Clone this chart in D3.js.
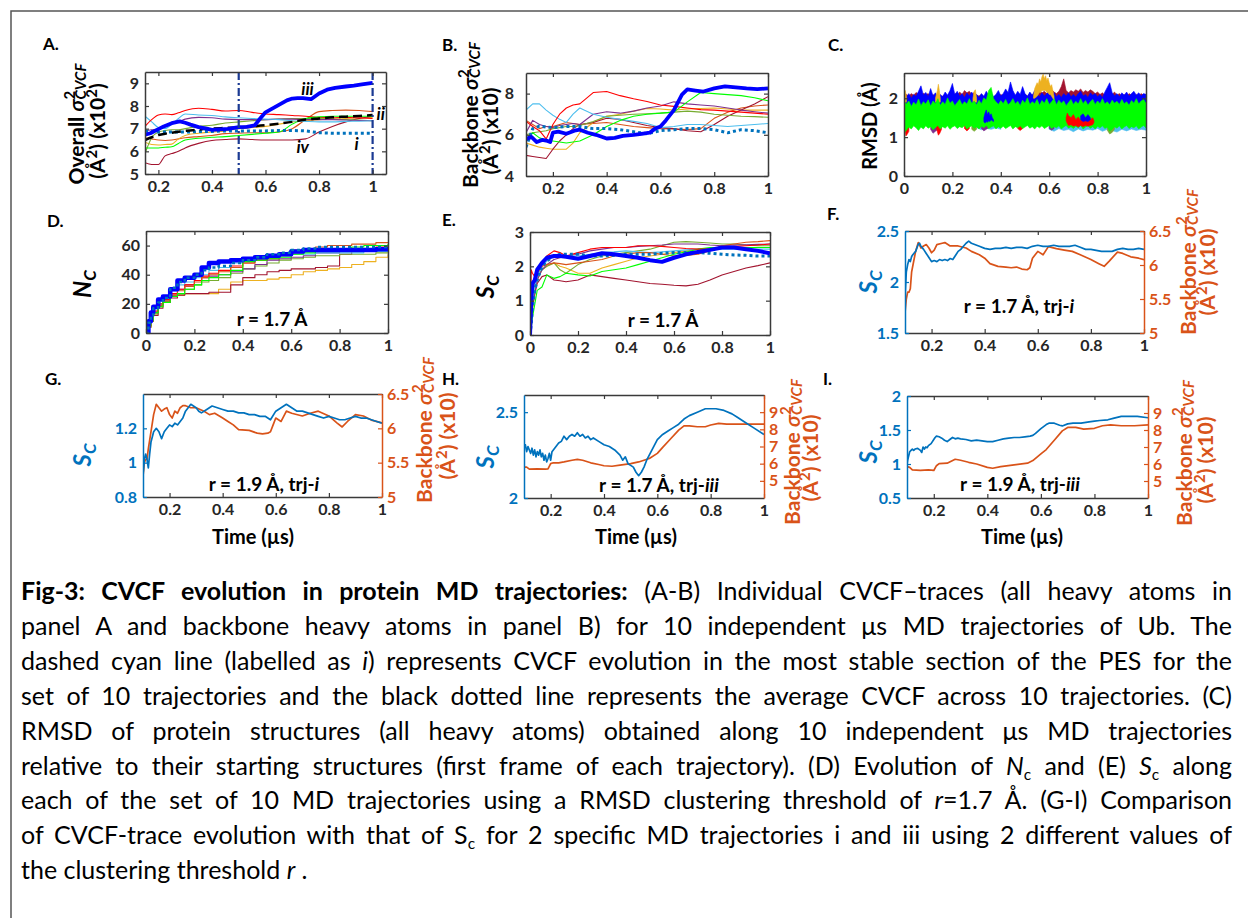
<!DOCTYPE html>
<html><head><meta charset="utf-8">
<script src="https://cdn.jsdelivr.net/npm/d3@7"></script>
<style>
body{margin:0;background:#fff;}
svg{display:block;}
</style></head><body>
<svg id="fig" width="1248" height="918"></svg>
<script>
// ---------------- DATA ----------------
const xTicks = [0.2,0.4,0.6,0.8,1];
const xTicks0 = [0,0.2,0.4,0.6,0.8,1];

// Panel A (overall CVCF, x10^2)
const aT = [0.15,0.175,0.2,0.225,0.25,0.275,0.3,0.35,0.4,0.45,0.5,0.55,0.6,0.65,0.7,0.75,0.8,0.85,0.9,0.95,1.0];
const aRed = [7.1,7.4,7.6,7.65,7.62,7.7,7.8,7.9,7.85,7.78,7.8,7.72,7.65,7.62,7.58,7.55,7.5,7.48,7.5,7.47,7.45];
const aLightBlue = [7.55,7.3,7.05,7.0,7.2,7.45,7.65,7.6,7.58,7.52,7.48,7.45,7.42,7.4,7.35,7.32,7.3,7.3,7.32,7.33,7.35];
const aPurple = [6.9,6.95,7.0,7.1,7.25,7.3,7.42,7.5,7.48,7.42,7.4,7.4,7.4,7.42,7.42,7.4,7.4,7.4,7.38,7.36,7.35];
const aOlive = [5.9,6.6,6.85,6.92,6.95,6.95,7.0,7.1,7.15,7.25,7.3,7.35,7.4,7.42,7.45,7.45,7.45,7.42,7.4,7.38,7.35];
const aYellow = [6.4,6.3,6.28,6.3,6.32,6.55,6.7,6.8,6.85,6.9,7.0,7.05,7.1,7.2,7.3,7.35,7.4,7.42,7.45,7.48,7.5];
const aOrange = [6.6,6.55,6.5,6.48,6.5,6.55,6.6,6.65,6.7,6.78,6.8,6.82,6.82,6.85,7.0,7.4,7.75,7.8,7.82,7.8,7.75];
const aMaroon = [5.5,5.42,5.42,5.8,5.9,6.0,6.15,6.35,6.48,6.52,6.55,6.52,6.5,6.5,6.5,6.55,6.85,7.1,7.3,7.45,7.55];
const aGreen = [6.15,6.15,6.15,6.18,6.2,6.35,6.5,6.58,6.62,6.65,6.7,6.75,6.8,6.85,7.2,7.45,7.52,7.55,7.55,7.55,7.55];
const aDotted = [6.9,6.88,6.85,6.85,6.85,6.85,6.85,6.87,6.88,6.9,6.9,6.9,6.9,6.92,6.92,6.9,6.82,6.8,6.8,6.8,6.8];
const aMean = [6.5,6.62,6.72,6.78,6.82,6.86,6.9,6.96,7.0,7.03,7.06,7.1,7.15,7.22,7.3,7.4,7.45,7.5,7.53,7.56,7.6];
const aBlueT = [0.15,0.17,0.2,0.22,0.25,0.28,0.3,0.32,0.35,0.38,0.4,0.43,0.46,0.5,0.53,0.56,0.58,0.6,0.62,0.65,0.68,0.7,0.72,0.74,0.77,0.8,0.83,0.86,0.9,0.93,0.96,1.0];
const aBlue = [6.73,6.8,6.98,7.1,7.24,7.32,7.26,7.18,7.07,7.0,6.95,6.97,6.99,7.07,7.08,7.15,7.45,7.72,7.85,8.05,8.25,8.33,8.35,8.35,8.3,8.55,8.72,8.8,8.86,8.9,8.95,9.02];
const aVLines = [0.5, 1.0];

// Panel B (backbone CVCF, x10)
const bT = [0.1,0.125,0.15,0.175,0.2,0.225,0.25,0.275,0.3,0.35,0.4,0.45,0.5,0.55,0.6,0.65,0.7,0.75,0.8,0.85,0.9,0.95,1.0];
const bRed = [6.65,6.4,6.2,5.8,6.5,7.0,7.3,7.45,7.5,8.05,8.1,7.9,7.75,7.62,7.45,7.38,7.3,7.22,7.2,7.15,7.1,7.05,7.0];
const bLightBlue = [7.2,7.5,7.5,7.2,6.95,6.75,6.6,7.0,7.3,7.0,6.85,6.75,6.65,6.55,6.35,6.4,6.5,6.5,6.45,6.4,6.45,6.5,6.55];
const bPurple = [6.1,6.7,6.5,6.4,6.35,6.45,6.5,6.55,6.5,7.0,7.12,7.05,7.15,7.3,7.4,7.6,7.5,7.45,7.4,7.3,7.2,7.12,7.05];
const bOlive = [6.0,6.1,6.15,6.2,6.3,6.35,6.4,6.4,6.45,6.65,6.9,6.95,7.0,7.02,7.05,7.1,7.15,7.1,7.0,6.95,6.9,6.88,6.85];
const bYellow = [5.6,5.5,5.4,5.35,5.3,5.3,5.3,5.6,6.1,6.6,6.9,7.0,7.15,7.28,7.25,7.2,7.25,7.28,7.3,7.25,7.2,7.2,7.2];
const bOrange = [6.7,6.5,6.3,6.4,6.4,6.5,6.6,6.55,6.5,6.55,6.6,6.5,6.4,6.35,6.3,6.28,6.25,6.3,6.8,7.1,7.3,7.4,7.45];
const bMaroon = [5.0,4.95,4.9,4.85,5.3,5.7,6.0,6.3,6.5,6.6,6.8,6.75,6.6,6.45,6.35,6.3,6.2,6.15,6.5,6.9,7.2,7.5,7.85];
const bGreen = [5.8,6.1,5.85,5.75,5.7,5.65,5.6,5.65,5.7,6.0,6.4,6.7,6.9,7.0,7.05,7.1,7.6,8.05,8.0,7.95,7.9,7.8,7.65];
const bDotted = [5.4,6.3,6.42,6.38,6.35,6.38,6.4,6.4,6.4,6.3,6.3,6.25,6.15,6.05,6.2,6.25,6.3,6.3,6.25,6.1,6.25,6.2,6.1];
const bBlueT = [0.1,0.12,0.14,0.16,0.18,0.19,0.2,0.22,0.25,0.28,0.3,0.33,0.36,0.4,0.43,0.46,0.5,0.53,0.56,0.58,0.6,0.62,0.65,0.68,0.7,0.73,0.76,0.8,0.84,0.88,0.92,0.96,1.0];
const bBlue = [5.8,5.9,5.65,5.75,5.7,5.65,6.1,6.15,6.05,6.2,6.25,6.1,6.0,5.82,5.85,5.95,6.0,6.05,6.1,6.3,6.4,6.7,7.2,7.95,8.2,8.15,8.1,8.25,8.35,8.3,8.25,8.22,8.25];

// Panel C (RMSD, A) – envelopes of the dense traces
const rmsdT = [0,0.003,0.01,0.02,0.03,0.04,0.05,0.06,0.07,0.08,0.09,0.10,0.11,0.12,0.13,0.14,0.15,0.16,0.17,0.18,0.19,0.20,0.21,0.22,0.23,0.24,0.25,0.26,0.27,0.28,0.29,0.30,0.31,0.32,0.33,0.34,0.35,0.36,0.37,0.38,0.39,0.40,0.41,0.42,0.43,0.44,0.45,0.46,0.47,0.48,0.49,0.50,0.51,0.52,0.53,0.54,0.55,0.56,0.57,0.58,0.59,0.60,0.61,0.62,0.63,0.64,0.65,0.66,0.67,0.68,0.69,0.70,0.71,0.72,0.73,0.74,0.75,0.76,0.77,0.78,0.79,0.80,0.81,0.82,0.83,0.84,0.85,0.86,0.87,0.88,0.89,0.90,0.91,0.92,0.93,0.94,0.95,0.96,0.97,0.98,0.99,1.00];
const rmsdGreenHi = [1.75,1.9,1.85,1.93,1.79,1.9,1.83,1.98,1.81,1.91,1.85,1.96,1.8,1.93,1.86,1.99,1.82,1.91,1.84,2.01,1.87,1.93,1.81,1.89,1.97,1.83,1.91,1.85,1.99,1.87,1.93,1.83,1.95,1.86,2.01,1.95,2.2,2.28,1.99,1.91,1.84,1.94,1.86,1.97,1.83,1.89,1.99,1.85,1.92,1.81,1.95,1.87,2.01,1.84,1.91,1.86,1.97,1.82,1.94,1.87,1.99,1.84,1.91,1.99,1.83,1.95,1.87,1.93,1.81,1.89,1.97,1.84,1.92,1.85,1.99,1.86,1.94,1.82,1.91,1.97,1.84,1.93,1.86,1.99,1.85,1.91,1.83,1.95,1.87,1.92,1.84,1.97,1.86,1.91,1.82,1.94,1.87,1.99,1.85,1.93,1.97,1.87];
const rmsdGreenLo = [0,1.12,1.18,1.26,1.21,1.29,1.24,1.17,1.26,1.21,1.29,1.23,1.27,1.19,1.25,1.3,1.21,1.27,1.23,1.29,1.2,1.26,1.29,1.22,1.27,1.24,1.3,1.21,1.26,1.29,1.23,1.27,1.21,1.28,1.24,1.3,1.22,1.26,1.29,1.21,1.27,1.23,1.28,1.22,1.26,1.3,1.21,1.27,1.24,1.29,1.22,1.26,1.3,1.23,1.27,1.21,1.28,1.24,1.29,1.22,1.26,1.3,1.22,1.27,1.24,1.29,1.21,1.26,1.3,1.23,1.27,1.22,1.28,1.24,1.3,1.21,1.26,1.29,1.23,1.27,1.21,1.28,1.24,1.29,1.22,1.26,1.16,1.2,1.27,1.23,1.29,1.21,1.26,1.3,1.22,1.27,1.24,1.29,1.21,1.26,1.3,1.24];
const rmsdBlueHi = [1.9,2.0,2.02,2.12,2.0,2.1,2.05,2.18,2.32,2.08,2.15,2.04,2.25,2.06,2.14,2.02,2.1,2.04,2.16,2.08,2.2,2.38,2.1,2.18,2.05,2.12,2.02,2.14,2.06,2.16,2.04,2.1,2.02,2.12,2.05,2.18,2.08,2.14,2.04,2.1,2.2,2.06,2.12,2.24,2.15,2.42,2.2,2.08,2.18,2.1,2.3,2.12,2.05,2.16,2.08,2.2,2.1,2.04,2.14,2.06,2.12,2.2,2.08,2.15,2.04,2.1,2.02,2.12,2.06,2.14,2.04,2.1,2.03,2.12,2.18,2.06,2.1,2.02,2.14,2.08,2.12,2.04,2.1,2.02,2.16,2.28,2.4,2.15,2.06,2.12,2.04,2.14,2.08,2.16,2.05,2.12,2.18,2.08,2.14,2.06,2.12,2.1];
const rmsdMaroonHi = [1.9,2.05,2.1,2.06,2.12,2.08,2.15,2.1,2.06,2.13,2.09,2.12,2.05,2.1,2.04,2.08,2.02,2.06,2.1,2.04,2.08,2.05,2.12,2.08,2.16,2.1,2.2,2.14,2.18,2.1,2.15,2.08,2.06,2.1,2.04,2.08,2.12,2.06,2.02,2.08,2.04,2.1,2.06,2.02,2.08,2.04,2.1,2.06,2.02,2.08,2.05,2.1,2.06,2.12,2.08,2.15,2.1,2.2,2.14,2.18,2.12,2.2,2.22,2.16,2.12,2.18,2.3,2.5,2.2,2.14,2.2,2.16,2.22,2.18,2.24,2.15,2.2,2.16,2.22,2.18,2.12,2.16,2.1,2.14,2.08,2.12,2.06,2.1,2.16,2.08,2.12,2.06,2.1,2.05,2.12,2.08,2.04,2.1,2.06,2.12,2.08,2.1];
const rmsdOrangeT = [0,0.005,0.01,0.012,0.13,0.138,0.142,0.146,0.15,0.152,0.285,0.29,0.295,0.3,0.302,0.535,0.54,0.55,0.555,0.56,0.565,0.57,0.575,0.58,0.585,0.59,0.595,0.6,0.605,0.61,0.615,0.62];
const rmsdOrangeHi = [2.1,2.2,2.05,null,2.0,2.2,2.36,2.2,2.0,null,2.0,2.18,2.22,2.0,null,2.05,2.25,2.4,2.35,2.5,2.42,2.55,2.62,2.5,2.58,2.45,2.52,2.4,2.3,2.35,2.2,2.05];
const rmsdOrangeLo = [1.9,1.9,1.9,null,1.9,1.9,1.9,1.9,1.9,null,1.9,1.9,1.9,1.9,null,2.0,2.0,2.05,2.1,2.15,2.15,2.2,2.2,2.2,2.2,2.15,2.15,2.1,2.1,2.05,2.0,1.95];
const rmsdCyanLowT = [0,0.01,0.02,0.021,0.3,0.32,0.34,0.36,0.38,0.4,0.401,0.6,0.62,0.64,0.66,0.68,0.7,0.72,0.74,0.76,0.78,0.8,0.82,0.84,0.86,0.88,0.9,0.92,0.94,0.96,0.98,1.0];
const rmsdCyanLow = [1.2,1.25,1.2,null,1.24,1.19,1.23,1.2,1.24,1.2,null,1.2,1.15,1.22,1.17,1.2,1.14,1.21,1.16,1.2,1.18,1.22,1.15,1.2,1.17,1.13,1.2,1.16,1.21,1.17,1.2,1.18];
const rmsdRedLowT = [0.004,0.008,0.014,0.02,0.021,0.135,0.142,0.148,0.155,0.156,0.25,0.26,0.27,0.271,0.47,0.48,0.49];
const rmsdRedLow = [1.15,1.03,1.08,1.15,null,1.2,1.05,1.1,1.2,null,1.22,1.16,1.22,null,1.22,1.17,1.22];
const rmsdPurpleLowT = [0.11,0.12,0.13,0.14,0.141,0.32,0.33,0.34,0.35,0.351,0.6,0.61,0.62];
const rmsdPurpleLow = [1.2,1.1,1.15,1.2,null,1.22,1.16,1.2,1.24,null,1.22,1.18,1.22];
const rmsdOliveLowT = [0.28,0.29,0.3,0.301,0.84,0.85,0.86,0.87];
const rmsdOliveLow = [1.2,1.15,1.2,null,1.18,1.08,1.12,1.2];
const rmsdRedPatchT = [0.67,0.675,0.68,0.69,0.7,0.71,0.72,0.73,0.74,0.75,0.76,0.77,0.78,0.785];
const rmsdRedPatchHi = [1.5,1.62,1.55,1.5,1.58,1.45,1.52,1.42,1.5,1.44,1.52,1.45,1.5,1.42];
const rmsdRedPatchLo = [1.42,1.35,1.3,1.32,1.28,1.3,1.26,1.3,1.27,1.3,1.28,1.3,1.32,1.38];
const rmsdBluePatchT = [0.33,0.335,0.34,0.345,0.35,0.355,0.36,0.365,0.37,0.371,0.73,0.74,0.75,0.76,0.77];
const rmsdBluePatchHi = [1.5,1.62,1.7,1.58,1.65,1.55,1.6,1.5,1.45,null,1.55,1.6,1.5,1.58,1.5];
const rmsdBluePatchLo = [1.4,1.36,1.4,1.38,1.42,1.4,1.45,1.42,1.4,null,1.45,1.4,1.42,1.4,1.45];

// Panel D (N_C)
const dT = [0,0.01,0.02,0.03,0.05,0.07,0.1,0.13,0.16,0.2,0.23,0.26,0.3,0.35,0.4,0.45,0.5,0.55,0.6,0.65,0.7,0.75,0.8,0.85,0.9,0.95,1.0];
const dBlue = [0,8,14,18,23,25,30,36,38,40,45,48,49,50,51,52,53,54,56,57,57,57,57,57,57,57.5,57.5];
const dDotted = [0,7,12,17,21,24,31,35,38,40,43,45,46,48,50,52,54,55,57,58,59,59,59,59,59,59,59];
const dRed = [0,5,10,15,20,23,27,30,33,36,39,41,43,46,48,50,51,53,55,56,56,57,57,58,58,59,59];
const dOrange = [0,5,9,14,19,22,26,29,32,35,38,40,42,45,48,51,53,55,57,58,59,60,60,61,61,62,62];
const dLightBlue = [0,6,11,16,20,23,29,33,35,38,40,43,45,48,50,51,52,53,54,54,55,55,55,55,56,56,56];
const dPurple = [0,5,9,14,19,22,26,30,33,36,38,39,40,42,44,47,50,51,52,53,55,55,56,57,57,58,58];
const dOlive = [0,4,8,13,18,22,25,27,30,33,35,36,38,41,44,46,48,50,51,52,53,53,54,54,54,55,55];
const dGreen = [0,5,9,14,18,21,25,27,30,33,36,38,40,43,49,50,51,52,54,55,57,57,58,59,60,60,61];
const dMaroon = [0,4,8,12,17,21,24,26,27,27,27,28,28,33,38,40,42,43,44,44,45,46,54,56,56,57,58];
const dYellow = [0,4,8,13,18,21,25,26,27,27,27,27,30,35,36,36,37,38,40,42,43,44,45,47,49,52,54];

// Panel E (S_C)
const eT = [0,0.005,0.01,0.02,0.03,0.05,0.07,0.1,0.125,0.15,0.2,0.25,0.3,0.35,0.4,0.45,0.5,0.55,0.6,0.65,0.7,0.75,0.8,0.85,0.9,0.95,1.0];
const eBlue = [0,1.0,1.5,1.6,1.9,2.1,2.25,2.3,2.3,2.28,2.22,2.3,2.38,2.35,2.3,2.25,2.18,2.13,2.25,2.35,2.42,2.48,2.55,2.55,2.5,2.45,2.38];
const eDotted = [0,0.3,0.8,1.3,1.6,2.0,2.15,2.3,2.35,2.35,2.35,2.3,2.3,2.32,2.35,2.35,2.35,2.38,2.4,2.4,2.4,2.38,2.35,2.33,2.32,2.3,2.3];
const eMaroon = [0,0.4,0.8,1.2,1.5,1.7,1.75,1.6,1.58,1.55,1.6,1.75,1.7,1.65,1.6,1.55,1.5,1.48,1.45,1.43,1.48,1.6,1.75,1.85,1.95,2.02,2.1];
const eGreen = [0,0.2,0.5,0.9,1.3,1.4,1.75,1.65,1.7,1.8,1.75,1.72,1.85,1.9,1.95,2.05,2.15,2.25,2.35,2.42,2.5,2.55,2.55,2.55,2.55,2.55,2.55];
const eRed = [0,1.9,1.8,1.7,1.9,2.1,2.3,2.45,2.4,2.3,2.4,2.5,2.55,2.55,2.55,2.6,2.6,2.58,2.55,2.52,2.5,2.5,2.55,2.58,2.6,2.62,2.65];
const eOlive = [0,0.3,0.8,1.4,1.7,1.9,2.0,2.1,1.9,1.8,2.05,2.2,2.3,2.35,2.4,2.45,2.5,2.6,2.7,2.72,2.7,2.68,2.65,2.65,2.62,2.6,2.6];
const eYellow = [0,0.3,0.7,1.2,1.6,1.9,2.0,2.1,2.0,1.95,1.8,1.8,1.95,2.05,2.15,2.25,2.3,2.35,2.4,2.45,2.5,2.52,2.55,2.55,2.55,2.55,2.55];
const eOrange = [0,0.8,1.2,1.6,1.8,2.0,2.05,2.1,2.08,2.05,2.1,2.15,2.2,2.3,2.35,2.4,2.4,2.35,2.3,2.32,2.35,2.45,2.6,2.65,2.7,2.72,2.75];
const ePurple = [0,0.5,0.9,1.3,1.6,1.9,2.05,2.2,2.25,2.3,2.35,2.45,2.5,2.55,2.55,2.58,2.6,2.62,2.65,2.65,2.65,2.62,2.6,2.62,2.63,2.64,2.65];
const eLightBlue = [0,0.6,1.0,1.4,1.7,2.0,2.15,2.3,2.3,2.3,2.3,2.35,2.4,2.42,2.45,2.42,2.4,2.42,2.45,2.48,2.5,2.5,2.5,2.5,2.5,2.5,2.5];

// Panel F (r=1.7, trj-i)
const fScT = [0.1,0.101,0.105,0.11,0.115,0.12,0.125,0.13,0.14,0.15,0.155,0.16,0.17,0.18,0.19,0.2,0.21,0.22,0.23,0.24,0.25,0.26,0.27,0.28,0.29,0.3,0.31,0.32,0.33,0.34,0.35,0.36,0.38,0.4,0.42,0.44,0.46,0.48,0.5,0.52,0.54,0.56,0.58,0.6,0.62,0.64,0.66,0.68,0.7,0.72,0.74,0.76,0.78,0.8,0.82,0.84,0.86,0.88,0.9,0.92,0.94,0.96,0.98,1.0];
const fSc = [1.72,1.9,2.1,2.17,2.22,2.2,2.25,2.27,2.3,2.37,2.38,2.35,2.32,2.28,2.24,2.2,2.21,2.2,2.22,2.21,2.22,2.21,2.23,2.22,2.26,2.3,2.32,2.35,2.38,2.4,2.38,2.37,2.35,2.33,2.32,2.33,2.33,2.34,2.33,2.34,2.34,2.33,2.35,2.36,2.35,2.35,2.36,2.35,2.35,2.35,2.36,2.34,2.32,2.32,2.31,2.3,2.3,2.3,2.32,2.33,2.32,2.32,2.33,2.32];
const fCvT = [0.1,0.105,0.11,0.115,0.12,0.125,0.13,0.14,0.15,0.16,0.17,0.18,0.19,0.2,0.21,0.22,0.24,0.25,0.27,0.3,0.33,0.35,0.38,0.4,0.42,0.45,0.48,0.5,0.52,0.54,0.56,0.57,0.58,0.6,0.62,0.64,0.67,0.7,0.73,0.76,0.8,0.83,0.85,0.87,0.9,0.92,0.95,0.98,1.0];
const fCv = [5.3,5.5,5.6,5.6,5.65,5.9,6.0,6.2,6.33,6.25,6.28,6.3,6.25,6.18,6.22,6.3,6.32,6.33,6.28,6.28,6.25,6.2,6.15,6.1,6.02,5.98,5.97,5.96,5.97,5.94,5.93,5.96,6.1,6.2,6.15,6.27,6.24,6.22,6.2,6.15,6.08,6.02,5.98,6.06,6.19,6.17,6.12,6.1,6.08];

// Panel G (r=1.9, trj-i)
const gScT = [0.1,0.105,0.11,0.115,0.12,0.125,0.13,0.135,0.14,0.15,0.16,0.165,0.17,0.18,0.19,0.2,0.21,0.22,0.23,0.24,0.25,0.26,0.27,0.28,0.29,0.3,0.31,0.32,0.34,0.36,0.38,0.4,0.42,0.44,0.46,0.48,0.5,0.52,0.54,0.56,0.58,0.6,0.62,0.64,0.66,0.68,0.7,0.72,0.74,0.76,0.78,0.8,0.82,0.84,0.86,0.88,0.9,0.92,0.94,0.96,0.98,1.0];
const gSc = [0.93,1.02,1.05,1.02,0.97,1.05,1.12,1.15,1.18,1.2,1.18,1.16,1.14,1.18,1.2,1.22,1.21,1.23,1.22,1.24,1.26,1.3,1.32,1.34,1.33,1.32,1.3,1.29,1.31,1.33,1.32,1.31,1.3,1.3,1.29,1.29,1.28,1.28,1.27,1.27,1.25,1.3,1.32,1.34,1.32,1.3,1.3,1.29,1.28,1.27,1.26,1.27,1.26,1.25,1.25,1.26,1.27,1.26,1.26,1.25,1.24,1.23];
const gCvT = [0.1,0.105,0.11,0.115,0.12,0.13,0.14,0.15,0.16,0.17,0.18,0.19,0.2,0.21,0.22,0.23,0.24,0.25,0.26,0.28,0.3,0.33,0.35,0.37,0.4,0.42,0.44,0.46,0.5,0.53,0.55,0.57,0.58,0.59,0.6,0.62,0.64,0.66,0.7,0.73,0.76,0.8,0.83,0.85,0.87,0.9,0.93,0.96,1.0];
const gCv = [5.3,5.5,5.55,5.55,5.7,5.95,6.2,6.35,6.3,6.25,6.28,6.3,6.2,6.15,6.25,6.22,6.3,6.33,6.33,6.3,6.3,6.25,6.2,6.22,6.15,6.1,6.05,5.98,5.97,5.93,5.92,5.93,5.95,6.05,6.15,6.1,6.25,6.22,6.18,6.22,6.25,6.18,6.08,6.02,6.1,6.2,6.18,6.12,6.08];

// Panel H (r=1.7, trj-iii)
const hScT = [0.1,0.105,0.11,0.115,0.12,0.125,0.13,0.135,0.14,0.145,0.15,0.155,0.16,0.165,0.17,0.175,0.18,0.185,0.19,0.195,0.2,0.205,0.21,0.22,0.23,0.24,0.25,0.26,0.27,0.28,0.29,0.3,0.31,0.32,0.33,0.34,0.35,0.36,0.38,0.4,0.42,0.44,0.46,0.47,0.48,0.49,0.5,0.51,0.52,0.53,0.54,0.55,0.56,0.58,0.6,0.62,0.64,0.66,0.68,0.7,0.72,0.75,0.78,0.8,0.82,0.85,0.88,0.9,0.93,0.96,1.0];
const hSc = [2.3,2.31,2.27,2.3,2.28,2.26,2.29,2.25,2.28,2.24,2.27,2.25,2.28,2.24,2.26,2.22,2.25,2.21,2.23,2.26,2.22,2.27,2.28,2.3,2.32,2.33,2.36,2.34,2.36,2.37,2.36,2.38,2.36,2.37,2.35,2.36,2.34,2.35,2.33,2.31,2.3,2.28,2.25,2.22,2.24,2.2,2.19,2.18,2.15,2.13,2.15,2.18,2.22,2.28,2.34,2.37,2.39,2.41,2.43,2.46,2.48,2.5,2.52,2.52,2.52,2.51,2.49,2.47,2.44,2.41,2.37];
const hCvT = [0.1,0.11,0.12,0.15,0.18,0.19,0.2,0.21,0.23,0.25,0.28,0.3,0.32,0.35,0.38,0.4,0.43,0.46,0.5,0.53,0.55,0.57,0.6,0.62,0.65,0.68,0.7,0.72,0.75,0.78,0.8,0.83,0.86,0.9,0.95,1.0];
const hCv = [5.8,5.8,5.68,5.7,5.68,5.7,6.0,6.05,6.05,6.1,6.2,6.25,6.2,6.05,5.95,5.88,5.85,5.92,6.0,6.1,6.2,6.3,6.6,6.95,7.45,7.95,8.2,8.2,8.15,8.15,8.25,8.35,8.3,8.3,8.3,8.3];

// Panel I (r=1.9, trj-iii)
const iScT = [0.1,0.102,0.105,0.11,0.115,0.12,0.125,0.13,0.14,0.15,0.155,0.16,0.165,0.17,0.175,0.18,0.19,0.2,0.205,0.21,0.22,0.23,0.24,0.25,0.26,0.27,0.28,0.29,0.3,0.32,0.34,0.36,0.38,0.4,0.42,0.44,0.46,0.48,0.5,0.52,0.54,0.56,0.57,0.58,0.6,0.62,0.63,0.65,0.67,0.68,0.7,0.72,0.75,0.78,0.8,0.82,0.85,0.87,0.9,0.93,0.96,1.0];
const iSc = [1.0,1.05,1.1,1.18,1.2,1.22,1.2,1.22,1.23,1.2,1.17,1.25,1.22,1.25,1.24,1.27,1.3,1.36,1.39,1.41,1.4,1.38,1.35,1.33,1.36,1.39,1.37,1.38,1.37,1.36,1.34,1.35,1.34,1.33,1.33,1.35,1.37,1.38,1.39,1.39,1.4,1.41,1.42,1.45,1.52,1.58,1.6,1.6,1.57,1.56,1.59,1.6,1.6,1.62,1.63,1.64,1.65,1.67,1.7,1.7,1.7,1.68];
const iCvT = [0.1,0.11,0.12,0.15,0.18,0.2,0.21,0.22,0.25,0.28,0.3,0.33,0.36,0.4,0.42,0.45,0.5,0.55,0.57,0.6,0.62,0.65,0.68,0.7,0.73,0.76,0.8,0.83,0.86,0.9,0.95,1.0];
const iCv = [5.85,5.8,5.65,5.62,5.65,5.62,5.9,6.02,6.05,6.28,6.22,6.1,6.0,5.8,5.75,5.85,5.95,6.05,6.2,6.6,6.85,7.4,7.95,8.15,8.15,8.05,8.1,8.25,8.3,8.25,8.25,8.3];

// Caption
const captionLines = [
  [["b","Fig-3: CVCF evolution in protein MD trajectories:"],["n"," (A-B) Individual CVCF–traces (all heavy atoms in"]],
  [["n","panel A and backbone heavy atoms in panel B) for 10 independent μs MD trajectories of Ub. The"]],
  [["n","dashed cyan line (labelled as "],["i","i"],["n",") represents CVCF evolution in the most stable section of the PES for the"]],
  [["n","set of 10 trajectories and the black dotted line represents the average CVCF across 10 trajectories. (C)"]],
  [["n","RMSD of protein structures (all heavy atoms) obtained along 10 independent μs MD trajectories"]],
  [["n","relative to their starting structures (first frame of each trajectory). (D) Evolution of "],["i","N"],["sub","c"],["n"," and (E) "],["i","S"],["sub","c"],["n"," along"]],
  [["n","each of the set of 10 MD trajectories using a RMSD clustering threshold of "],["i","r"],["n","=1.7 Å. (G-I) Comparison"]],
  [["n","of CVCF-trace evolution with that of S"],["sub","c"],["n"," for 2 specific MD trajectories i and iii using 2 different values of"]],
  [["n","the clustering threshold "],["i","r"],["n"," ."]]
];

// ---------------- DRAWING ----------------
const FONT = "Lato, 'Open Sans', 'DejaVu Sans', sans-serif";
const AXC = "#3a3a3a", TXT = "#262626";
const COL = {red:"#FF0000", lblue:"#4DBEEE", purple:"#7E2F8E", olive:"#77AC30", yellow:"#EDB120",
  orange:"#D95319", maroon:"#A2142F", green:"#00FF00", blue:"#0000FF", mblue:"#0072BD", navy:"#1B3A93"};
const svg = d3.select("#fig");
const defs = svg.append("defs");
svg.append("rect").attr("x",11).attr("y",11).attr("width",1400).attr("height",1100)
  .attr("fill","none").attr("stroke","#555").attr("stroke-width",1.5);

function makePanel(o){
  const x = d3.scaleLinear().domain(o.xDom).range([o.L,o.R]);
  const y = d3.scaleLinear().domain(o.yDom).range([o.B,o.T]);
  const yR = o.yRDom ? d3.scaleLinear().domain(o.yRDom).range([o.B,o.T]) : null;
  const g = svg.append("g");
  const cid = "clip-"+o.name;
  defs.append("clipPath").attr("id",cid).append("rect")
    .attr("x",o.L).attr("y",o.T).attr("width",o.R-o.L).attr("height",o.B-o.T);
  const plot = g.append("g").attr("clip-path",`url(#${cid})`);
  return {o,x,y,yR,g,plot};
}
function styleAxis(sel, lineColor, textColor){
  sel.attr("font-family",FONT).attr("font-size",16).attr("font-weight","bold");
  sel.select(".domain").attr("stroke",lineColor).attr("stroke-width",1.5);
  sel.selectAll(".tick line").attr("stroke",lineColor).attr("stroke-width",1.2);
  sel.selectAll(".tick text").attr("fill",textColor);
}
function drawAxes(p){
  const {o,x,y,yR,g} = p;
  const fmt = d3.format("~g");
  const ga = g.append("g");
  styleAxis(ga.append("g").attr("transform",`translate(0,${o.T})`)
    .call(d3.axisTop(x).tickValues(o.xTicks).tickFormat("").tickSizeInner(-4).tickSizeOuter(0)), AXC, TXT);
  styleAxis(ga.append("g").attr("transform",`translate(0,${o.B})`)
    .call(d3.axisBottom(x).tickValues(o.xTicks).tickFormat(fmt).tickSizeInner(-4).tickSizeOuter(0).tickPadding(7)), AXC, TXT);
  if (yR) {
    styleAxis(ga.append("g").attr("transform",`translate(${o.R},0)`)
      .call(d3.axisRight(yR).tickValues(o.yRTicks).tickFormat(fmt).tickSizeInner(-4).tickSizeOuter(0).tickPadding(5)), COL.orange, COL.orange);
  } else {
    styleAxis(ga.append("g").attr("transform",`translate(${o.R},0)`)
      .call(d3.axisRight(y).tickValues(o.yTicks).tickFormat("").tickSizeInner(-4).tickSizeOuter(0)), AXC, TXT);
  }
  const lc = yR ? COL.mblue : AXC, ltc = yR ? COL.mblue : TXT;
  styleAxis(ga.append("g").attr("transform",`translate(${o.L},0)`)
    .call(d3.axisLeft(y).tickValues(o.yTicks).tickFormat(fmt).tickSizeInner(-4).tickSizeOuter(0).tickPadding(o.yPad||6)), lc, ltc);
}
function drawLine(p, xs, ys, st){
  const ys_ = st.right ? p.yR : p.y;
  const gen = d3.line().defined((d,i)=>ys[i]!=null)
    .x((d,i)=>p.x(xs[i])).y((d,i)=>ys_(ys[i])).curve(st.curve||d3.curveLinear);
  p.plot.append("path").attr("d",gen(xs)).attr("fill","none")
    .attr("stroke",st.color).attr("stroke-width",st.width||1.1)
    .attr("stroke-dasharray",st.dash||null).attr("stroke-linejoin","round");
}
function drawBand(p, xs, lo, hi, color){
  const val = (v,i)=> Array.isArray(v) ? v[i] : v;
  const gen = d3.area().defined((d,i)=>val(lo,i)!=null && val(hi,i)!=null)
    .x((d,i)=>p.x(xs[i])).y0((d,i)=>p.y(val(lo,i))).y1((d,i)=>p.y(val(hi,i)));
  p.plot.append("path").attr("d",gen(xs)).attr("fill",color).attr("stroke",color).attr("stroke-width",0.6);
}
function text(x,y,parts,opt={}){
  const t = svg.append("text").attr("x",x).attr("y",y).attr("font-family",FONT)
    .attr("font-size",opt.size||19).attr("font-weight",opt.weight||"bold")
    .attr("fill",opt.color||"#000").attr("text-anchor",opt.anchor||"start").style("white-space","pre");
  if (opt.transform) t.attr("transform",opt.transform);
  parts.forEach(pt=>{
    const s = t.append("tspan").text(pt.t);
    if (pt.it) s.attr("font-style","italic");
    if (pt.fs) s.attr("font-size",pt.fs);
    if (pt.dx!=null) s.attr("dx",pt.dx);
    if (pt.dy!=null) s.attr("dy",pt.dy);
  });
  return t;
}
function rot(x,cy,parts,opt={}){
  return text(0,0,parts,Object.assign({anchor:"middle",transform:`translate(${x},${cy}) rotate(-90)`},opt));
}
const sig = (prefix)=>[{t:prefix+" "},{t:"σ",it:1},{t:"2",fs:15,dy:-9},{t:"CVCF",it:1,fs:15,dx:-8.7,dy:11}];
const ang10 = [{t:"(Å"},{t:"2",fs:15,dy:-8},{t:") (x10)",dy:8}];
const ang100 = [{t:"(Å"},{t:"2",fs:15,dy:-8},{t:") (x10",dy:8},{t:"2",fs:15,dy:-8},{t:")",dy:8}];
const sc = (L)=>[{t:L,it:1},{t:"C",it:1,fs:17,dy:5}];

// ---- Panel A ----
const pA = makePanel({name:"A",L:145,R:386,T:72,B:174,xDom:[0.15,1.05],yDom:[5,9.5],xTicks,yTicks:[5,6,7,8,9]});
[[aOrange,COL.orange],[aYellow,COL.yellow],[aMaroon,COL.maroon],[aOlive,COL.olive],[aPurple,COL.purple],
 [aLightBlue,COL.lblue],[aRed,COL.red],[aGreen,COL.green]].forEach(([v,c])=>drawLine(pA,aT,v,{color:c,curve:d3.curveMonotoneX}));
drawLine(pA,aT,aDotted,{color:COL.mblue,width:3,dash:"3,3"});
drawLine(pA,aT,aMean,{color:"#000",width:2.5,dash:"9,5",curve:d3.curveMonotoneX});
drawLine(pA,aBlueT,aBlue,{color:COL.blue,width:3.8});
aVLines.forEach(v=>pA.plot.append("line").attr("x1",pA.x(v)).attr("x2",pA.x(v)).attr("y1",pA.o.T).attr("y2",pA.o.B)
  .attr("stroke",COL.navy).attr("stroke-width",2.2).attr("stroke-dasharray","8,3,2,3"));
drawAxes(pA);
[["iii",0.757,8.49],["ii",1.03,7.39],["iv",0.739,5.92],["i",0.94,6.07]].forEach(([s,xv,yv])=>
  text(pA.x(xv),pA.y(yv),[{t:s,it:1}],{size:17,anchor:"middle"}));
text(43,50,[{t:"A."}],{size:17});
rot(84,124,sig("Overall"),{size:21});
rot(105,131,ang100,{size:21});

// ---- Panel B ----
const pB = makePanel({name:"B",L:526,R:768,T:73,B:176,xDom:[0.1,1],yDom:[4,9],xTicks,yTicks:[4,6,8],yPad:12});
[[bOrange,COL.orange],[bYellow,COL.yellow],[bMaroon,COL.maroon],[bOlive,COL.olive],[bPurple,COL.purple],
 [bLightBlue,COL.lblue],[bRed,COL.red],[bGreen,COL.green]].forEach(([v,c])=>drawLine(pB,bT,v,{color:c}));
drawLine(pB,bT,bDotted,{color:COL.mblue,width:3,dash:"3,3"});
drawLine(pB,bBlueT,bBlue,{color:COL.blue,width:3.8});
drawAxes(pB);
text(442,51,[{t:"B."}],{size:17});
rot(478,115,sig("Backbone"),{size:21});
rot(498,131,ang10,{size:21});

// ---- Panel C ----
const pC = makePanel({name:"C",L:904,R:1146,T:73,B:176,xDom:[0,1],yDom:[0,2.65],xTicks:xTicks0,yTicks:[0,1,2]});
drawBand(pC,rmsdCyanLowT,rmsdCyanLow,1.45,COL.lblue);
drawBand(pC,rmsdPurpleLowT,rmsdPurpleLow,1.45,COL.purple);
drawBand(pC,rmsdOliveLowT,rmsdOliveLow,1.45,COL.olive);
drawBand(pC,rmsdRedLowT,rmsdRedLow,1.45,COL.red);
drawBand(pC,rmsdT,1.6,rmsdMaroonHi,COL.maroon);
drawBand(pC,rmsdT,1.6,rmsdBlueHi,COL.blue);
drawBand(pC,rmsdOrangeT,rmsdOrangeLo,rmsdOrangeHi,COL.yellow);
drawBand(pC,rmsdT,rmsdGreenLo,rmsdGreenHi,COL.green);
drawBand(pC,rmsdRedPatchT,rmsdRedPatchLo,rmsdRedPatchHi,COL.red);
drawBand(pC,rmsdBluePatchT,rmsdBluePatchLo,rmsdBluePatchHi,COL.blue);
drawAxes(pC);
text(828,51,[{t:"C."}],{size:17});
rot(877,126,[{t:"RMSD (Å)"}],{size:20});

// ---- Panel D ----
const pD = makePanel({name:"D",L:146,R:388,T:231,B:333,xDom:[0,1],yDom:[0,70],xTicks:xTicks0,yTicks:[0,20,40,60]});
[[dYellow,COL.yellow],[dMaroon,COL.maroon],[dOlive,COL.olive],[dPurple,COL.purple],[dLightBlue,COL.lblue],
 [dRed,COL.red],[dOrange,COL.orange],[dGreen,COL.green]].forEach(([v,c])=>drawLine(pD,dT,v,{color:c,curve:d3.curveStepAfter}));
drawLine(pD,dT,dBlue,{color:COL.blue,width:4.5,curve:d3.curveStepAfter});
drawLine(pD,dT,dDotted,{color:COL.mblue,width:2.5,dash:"3,3",curve:d3.curveStepAfter});
drawAxes(pD);
text(47,227,[{t:"D."}],{size:17});
rot(91,284,sc("N"),{size:24});
text(272,326,[{t:"r = 1.7 Å"}],{size:19,anchor:"middle"});

// ---- Panel E ----
const pE = makePanel({name:"E",L:530,R:770,T:232,B:335,xDom:[0,1],yDom:[0,3],xTicks:xTicks0,yTicks:[0,1,2,3]});
[[eYellow,COL.yellow],[eMaroon,COL.maroon],[eOlive,COL.olive],[ePurple,COL.purple],[eLightBlue,COL.lblue],
 [eOrange,COL.orange],[eGreen,COL.green],[eRed,COL.red]].forEach(([v,c])=>drawLine(pE,eT,v,{color:c}));
drawLine(pE,eT,eDotted,{color:COL.mblue,width:3,dash:"3,3"});
drawLine(pE,eT,eBlue,{color:COL.blue,width:4});
drawAxes(pE);
text(442,226,[{t:"E."}],{size:17});
rot(494,287,sc("S"),{size:24});
text(663,327,[{t:"r = 1.7 Å"}],{size:19,anchor:"middle"});

// ---- Panels F-I ----
function dual(name,L,R,T,B,yDom,yTicks,yRDom,yRTicks,scT,scV,cvT,cvV){
  const p = makePanel({name,L,R,T,B,xDom:[0.1,1],yDom,xTicks,yTicks,yRDom,yRTicks});
  drawLine(p,cvT,cvV,{color:COL.orange,width:1.7,right:true});
  drawLine(p,scT,scV,{color:COL.mblue,width:1.7});
  drawAxes(p);
  return p;
}
dual("F",905,1144,231,333,[1.5,2.5],[1.5,2,2.5],[5,6.5],[5,5.5,6,6.5],fScT,fSc,fCvT,fCv);
text(827,220,[{t:"F."}],{size:17});
rot(877,282,sc("S"),{size:24,color:COL.mblue});
rot(1196,262,sig("Backbone"),{size:21,color:COL.orange});
rot(1215,272,ang10,{size:21,color:COL.orange});
text(1019,313,[{t:"r = 1.7 Å, trj-"},{t:"i",it:1}],{size:19,anchor:"middle"});

dual("G",143,382,394,497,[0.8,1.4],[0.8,1,1.2],[5,6.5],[5,5.5,6,6.5],gScT,gSc,gCvT,gCv);
text(45,385,[{t:"G."}],{size:17});
rot(91,455,sc("S"),{size:24,color:COL.mblue});
rot(432,430,sig("Backbone"),{size:21,color:COL.orange});
rot(455,436,ang10,{size:21,color:COL.orange});
text(264,491,[{t:"r = 1.9 Å, trj-"},{t:"i",it:1}],{size:19,anchor:"middle"});
text(253,544,[{t:"Time (µs)"}],{size:20,anchor:"middle"});

dual("H",524,764,395,498,[2,2.6],[2,2.5],[4,10],[5,6,7,8,9],hScT,hSc,hCvT,hCv);
text(442,385,[{t:"H."}],{size:17});
rot(494,457,sc("S"),{size:24,color:COL.mblue});
rot(800,452,sig("Backbone"),{size:21,color:COL.orange});
rot(818,458,ang10,{size:21,color:COL.orange});
text(659,492,[{t:"r = 1.7 Å, trj-"},{t:"iii",it:1}],{size:19,anchor:"middle"});
text(636,544,[{t:"Time (µs)"}],{size:20,anchor:"middle"});

dual("I",907,1148,396,498,[0.5,2],[0.5,1,1.5,2],[4,10],[5,6,7,8,9],iScT,iSc,iCvT,iCv);
text(823,385,[{t:"I."}],{size:17});
rot(877,452,sc("S"),{size:24,color:COL.mblue});
rot(1192,453,sig("Backbone"),{size:21,color:COL.orange});
rot(1213,460,ang10,{size:21,color:COL.orange});
text(1020,491,[{t:"r = 1.9 Å, trj-"},{t:"iii",it:1}],{size:19,anchor:"middle"});
text(1022,544,[{t:"Time (µs)"}],{size:20,anchor:"middle"});

// ---- Caption ----
const CAP_X = 21, CAP_W = 1211, CAP_Y0 = 600, CAP_DY = 34.9, CAP_FS = 25;
captionLines.forEach((segs,li)=>{
  const t = svg.append("text").attr("x",CAP_X).attr("y",CAP_Y0+li*CAP_DY)
    .attr("font-family",FONT).attr("font-size",CAP_FS).attr("fill","#000").style("white-space","pre");
  let shift = 0, full = "";
  segs.forEach(([k,s])=>{
    const ts = t.append("tspan").text(s);
    full += s;
    if (k==="b") ts.attr("font-weight","bold");
    if (k==="i") ts.attr("font-style","italic");
    if (k==="sub") { ts.attr("font-size",CAP_FS*0.62).attr("dy",5-shift); shift=5; }
    else if (shift) { ts.attr("dy",-shift); shift=0; }
  });
  if (li < captionLines.length-1) {
    const w = t.node().getComputedTextLength();
    const nsp = (full.match(/ /g)||[]).length;
    if (w < CAP_W && nsp>0) {
      t.style("word-spacing", ((CAP_W-w)/nsp)+"px");
      const w2 = t.node().getComputedTextLength();
      if (Math.abs(w2-CAP_W) > 3) { t.style("word-spacing",null); t.attr("textLength",CAP_W).attr("lengthAdjust","spacing"); }
    } else {
      t.attr("textLength",CAP_W).attr("lengthAdjust","spacingAndGlyphs");
    }
  }
});
</script></body></html>
